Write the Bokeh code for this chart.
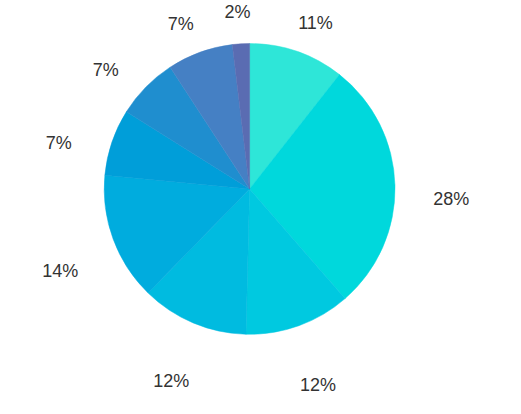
import math
from bokeh.plotting import figure
from bokeh.models import Range1d, ColumnDataSource
from bokeh.core.properties import value
from bokeh.embed import file_html
from bokeh.resources import INLINE

# Data (clockwise from 12 o'clock)
shares = [10.6, 28.0, 11.8, 11.9, 14.2, 7.4, 6.9, 7.3, 1.9]
colors = ["#2ee6d8", "#00d8dc", "#00c9e0", "#00bbe0", "#00acde", "#009ed9",
          "#1f8ecf", "#4580c4", "#5a6cb2"]

# Layout: data space mirrors the 521x414 reference frame (y measured downward)
W, H = 505, 398
FW, FH = 521, 414
CX, CY = 257, 196
R = 150
LAB_A, LAB_B, LAB_DY = 208, 200, 16

total = sum(shares)
starts, ends, lx, ly, texts = [], [], [], [], []
acc = 0.0
for s in shares:
    a0 = acc / total * 2 * math.pi
    acc += s
    a1 = acc / total * 2 * math.pi
    starts.append(math.pi / 2 - a0)
    ends.append(math.pi / 2 - a1)
    mid = (a0 + a1) / 2
    lx.append(CX + LAB_A * math.sin(mid))
    ly.append(FH - (CY - LAB_B * math.cos(mid) + LAB_DY))
    texts.append(f"{round(s / total * 100)}%")

src = ColumnDataSource(dict(start=starts, end=ends, color=colors))
lab = ColumnDataSource(dict(x=lx, y=ly, text=texts))

p = figure(width=W, height=H, output_backend="svg", toolbar_location=None,
           x_range=Range1d(0, FW), y_range=Range1d(0, FH),
           min_border=0)
p.axis.visible = False
p.grid.visible = False
p.outline_line_color = None
p.background_fill_color = "white"
p.border_fill_color = "white"

p.wedge(x=CX, y=FH - CY, radius=R, start_angle="start", end_angle="end",
        direction="clock", fill_color="color", line_color="color",
        line_width=0.5, source=src)
p.text(x="x", y="y", text="text", source=lab, text_align="center",
       text_baseline="middle", text_font=value("Liberation Sans"),
       text_font_size="18px", text_color="#333333")

open("out.html", "w").write(file_html(p, INLINE))
